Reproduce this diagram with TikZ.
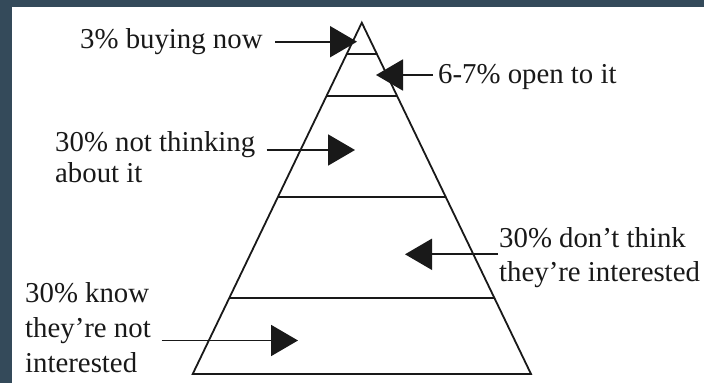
\documentclass[tikz,border=0pt]{standalone}
\usepackage{fontspec}
\setmainfont{Liberation Serif}
\usetikzlibrary{arrows.meta,calc}
\definecolor{frame}{RGB}{52,74,90}
\definecolor{ink}{RGB}{25,25,25}
\begin{document}
\begin{tikzpicture}[x=1pt,y=-1pt,
  lbl/.style={inner sep=0pt, align=left, text=ink},
  pointer/.style={draw=ink, line width=1.9pt, -{Triangle[length=27pt,width=31pt]}},
  edgeline/.style={draw=ink, line width=1.8pt}]
\useasboundingbox (0,0) rectangle (704,383);
\fill[frame] (0,0) rectangle (704,383);
\fill[white] (12,7) rectangle (704,383);
% pyramid
\coordinate (apex) at (361.8,22.7);
\coordinate (bl) at (192.7,374);
\coordinate (br) at (531,374);
\draw[edgeline] (bl) -- (apex) -- (br) -- cycle;
\draw[edgeline] ($(apex)!0.09!(bl)$) -- ($(apex)!0.09!(br)$);
\draw[edgeline] ($(apex)!0.2087!(bl)$) -- ($(apex)!0.2087!(br)$);
\draw[edgeline] ($(apex)!0.4953!(bl)$) -- ($(apex)!0.4953!(br)$);
\draw[edgeline] ($(apex)!0.7845!(bl)$) -- ($(apex)!0.7845!(br)$);
% labels
\node[lbl, anchor=base west, font=\fontsize{28.8}{31}\selectfont] (buy) at (80,48) {3\% buying now};
\node[lbl, anchor=base west, font=\fontsize{28.8}{31}\selectfont] (open) at (438,83) {6-7\% open to it};
\node[lbl, anchor=north west, font=\fontsize{28.8}{31}\selectfont] (think) at (55,131.5) {30\% not thinking\\about it};
\node[lbl, anchor=north west, font=\fontsize{28.8}{34}\selectfont] (dont) at (499,227.5) {30\% don’t think\\they’re interested};
\node[lbl, anchor=north west, font=\fontsize{28.8}{35}\selectfont] (know) at (25,282) {30\% know\\they’re not\\interested};
% arrows
\coordinate (buyS) at (275,41.7);  \coordinate (buyT) at (357,41.7);
\coordinate (openS) at (433,75);   \coordinate (openT) at (376,75);
\coordinate (thinkS) at (266.7,150); \coordinate (thinkT) at (355,150);
\coordinate (dontS) at (498,254.3); \coordinate (dontT) at (405,254.3);
\coordinate (knowS) at (161.7,340.5); \coordinate (knowT) at (298,340.5);
\draw[pointer] (buyS) -- (buyT);
\draw[pointer] (openS) -- (openT);
\draw[pointer] (thinkS) -- (thinkT);
\draw[pointer] (dontS) -- (dontT);
\draw[pointer] (knowS) -- (knowT);
\end{tikzpicture}
\end{document}
